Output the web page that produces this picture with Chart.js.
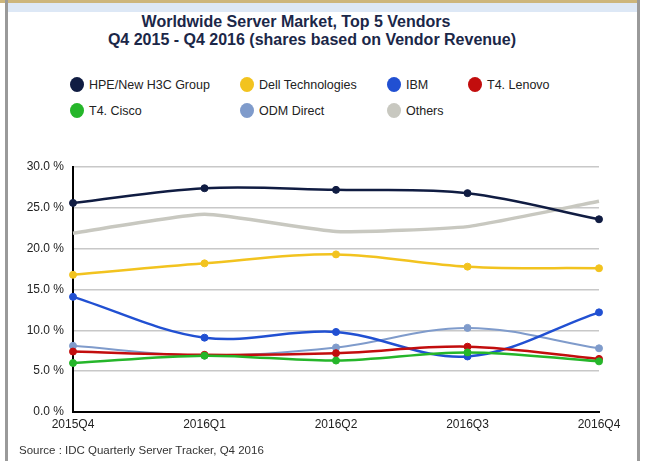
<!DOCTYPE html>
<html>
<head>
<meta charset="utf-8">
<script src="https://cdn.jsdelivr.net/npm/chart.js@4.4.1/dist/chart.umd.min.js"></script>
<style>
  html, body { margin: 0; padding: 0; background: #fff; }
  body { width: 648px; height: 461px; position: relative; overflow: hidden; font-family: "Liberation Sans", Arial, sans-serif; }
  .topline { position: absolute; left: 0; top: 0; width: 640px; height: 3px; background: #cdb67c; }
  .topband { position: absolute; left: 7px; top: 3px; width: 631px; height: 9px; background: #dde8f6; }
  .side { position: absolute; top: 0; width: 3px; height: 461px; background: #9a9a9a; }
  .title { position: absolute; left: 0; width: 624px; text-align: center; font-weight: bold; font-size: 16px; color: #1b2748; }
  .legend-item { position: absolute; font-size: 12.5px; color: #222; white-space: nowrap; }
  .legend-item i { position: absolute; left: -19px; top: -1px; width: 14px; height: 15px; border-radius: 50%; }
  .source { position: absolute; left: 19px; top: 444px; font-size: 11.5px; color: #333; }
  #wrap { position: absolute; left: 0; top: 0; width: 648px; height: 461px; }
</style>
</head>
<body>
<div class="topline"></div>
<div class="topband"></div>
<div class="side" style="left:5px"></div>
<div class="side" style="left:637px"></div>
<div class="title" style="top:13px;left:-16px">Worldwide Server Market, Top 5 Vendors</div>
<div class="title" style="top:31px">Q4 2015 - Q4 2016 (shares based on Vendor Revenue)</div>
<div id="legend"></div>
<div id="wrap"><canvas id="chart"></canvas></div>
<div class="source">Source : IDC Quarterly Server Tracker, Q4 2016</div>

<script>
const quarters = ['2015Q4', '2016Q1', '2016Q2', '2016Q3', '2016Q4'];
const yTicks = [0, 5, 10, 15, 20, 25, 30];

const hpe = [25.6, 27.4, 27.2, 26.8, 23.6];
const dell = [16.8, 18.2, 19.3, 17.8, 17.6];
const ibm = [14.1, 9.1, 9.8, 6.8, 12.2];
const lenovo = [7.4, 7.0, 7.2, 8.0, 6.5];
const cisco = [6.0, 6.9, 6.3, 7.3, 6.2];
const odm = [8.1, 6.9, 7.9, 10.3, 7.8];
const others = [21.9, 24.2, 22.1, 22.7, 25.8];

const vendorNames = ['HPE/New H3C Group', 'Dell Technologies', 'IBM', 'T4. Lenovo', 'T4. Cisco', 'ODM Direct', 'Others'];

const colors = {
  hpe: '#101c42',
  dell: '#f2c31f',
  ibm: '#2150d2',
  lenovo: '#c20d0d',
  cisco: '#25b62a',
  odm: '#7f9bcb',
  others: '#c8c8c0'
};

// legend laid out in columns like the original
const legendPos = [
  [89, 78], [259, 78], [406, 78], [487, 78],
  [89, 104], [259, 104], [406, 104]
];
const legendColors = [colors.hpe, colors.dell, colors.ibm, colors.lenovo, colors.cisco, colors.odm, colors.others];
const legendEl = document.getElementById('legend');
vendorNames.forEach((name, i) => {
  const d = document.createElement('div');
  d.className = 'legend-item';
  d.style.left = legendPos[i][0] + 'px';
  d.style.top = legendPos[i][1] + 'px';
  d.innerHTML = '<i style="background:' + legendColors[i] + '"></i>' + name;
  legendEl.appendChild(d);
});

function series(label, data, color, opts) {
  return Object.assign({
    label: label,
    data: data,
    borderColor: color,
    backgroundColor: color,
    borderWidth: 2.5,
    pointRadius: 3.5,
    pointBorderWidth: 1,
    tension: 0.35,
    fill: false
  }, opts || {});
}

new Chart(document.getElementById('chart'), {
  type: 'line',
  data: {
    labels: quarters,
    datasets: [
      series(vendorNames[4], cisco, colors.cisco),
      series(vendorNames[3], lenovo, colors.lenovo),
      series(vendorNames[2], ibm, colors.ibm),
      series(vendorNames[5], odm, colors.odm, { borderWidth: 2 }),
      series(vendorNames[0], hpe, colors.hpe),
      series(vendorNames[1], dell, colors.dell),
      series(vendorNames[6], others, colors.others, { pointRadius: 0, borderWidth: 3.5, tension: 0.15 })
    ]
  },
  options: {
    responsive: true,
    maintainAspectRatio: false,
    animation: false,
    layout: { padding: { left: 0, right: 49, top: 167, bottom: 29 } },
    plugins: {
      legend: { display: false },
      tooltip: { enabled: false }
    },
    scales: {
      x: {
        offset: false,
        grid: { display: false, drawTicks: false },
        border: { color: '#000', width: 2 },
        ticks: { color: '#222', font: { family: 'Liberation Sans', size: 12 }, padding: 5, maxRotation: 0, autoSkip: false },
        afterFit: s => { s.height = 20; }
      },
      y: {
        min: 0,
        max: 30,
        afterBuildTicks: s => { s.ticks = yTicks.map(v => ({ value: v })); },
        grid: { color: '#c8c8c8', lineWidth: 1.5, drawTicks: false },
        border: { color: '#000', width: 2 },
        ticks: {
          color: '#222',
          font: { family: 'Liberation Sans', size: 12 },
          padding: 9,
          callback: v => v.toFixed(1) + ' %'
        },
        afterFit: s => { s.width = 73; }
      }
    }
  }
});
</script>
</body>
</html>
